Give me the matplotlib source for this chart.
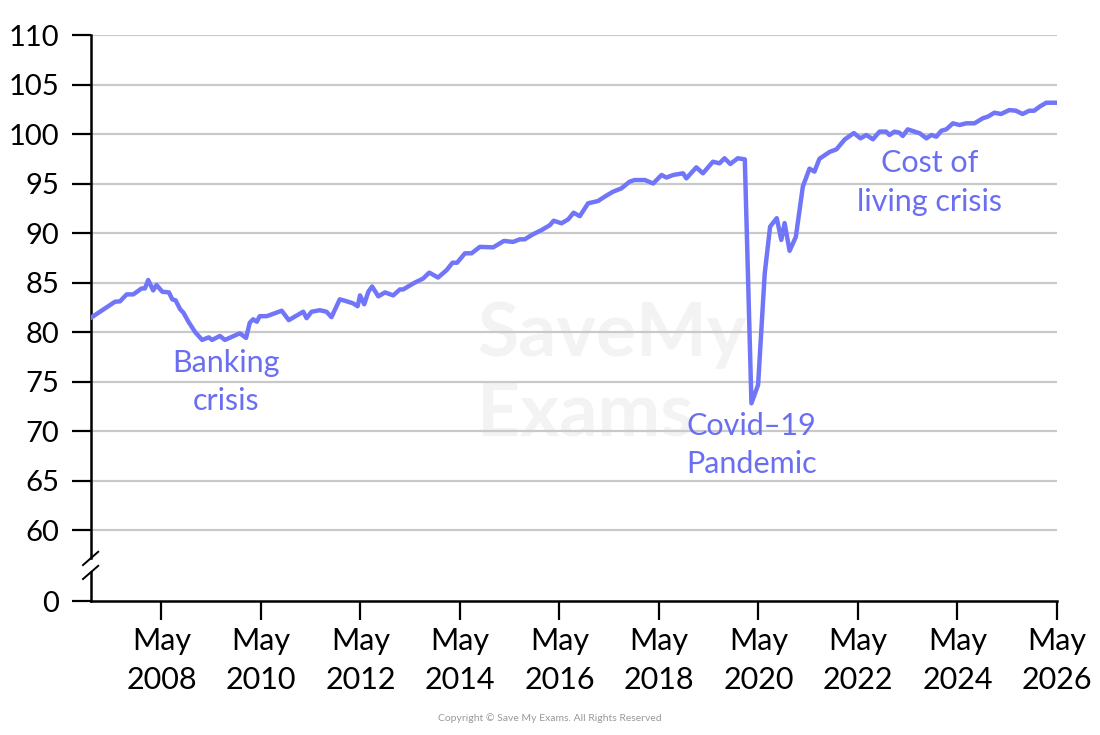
import numpy as np
import matplotlib
matplotlib.use("Agg")
import matplotlib.pyplot as plt
import matplotlib.transforms as mtransforms

plt.rcParams['font.family'] = ['Lato', 'DejaVu Sans']

#%% data (months counted from Dec 2006, index value)
month_idx = [0.2, 5.8, 7, 8.6, 10.2, 12.2, 13, 13.8, 15, 15.8, 17.2, 18.8, 19.6, 20.4,
             21.5, 22.3, 23.5, 25.1, 26.8, 28.4, 29.2, 31.1, 32.3, 33.9, 35.9, 37.4,
             38.3, 39.1, 40, 40.7, 42.4, 46, 47.7, 51.2, 52, 53.2, 55.2, 56.8, 58, 60,
             61.2, 63.2, 64.3, 64.9, 65.9, 66.9, 67.8, 69.3, 70.9, 72.9, 74.5, 75.3,
             77.7, 80.1, 81.6, 83.7, 85.8, 87.2, 88.3, 90.2, 91.8, 93.8, 97, 99.6,
             101.8, 103.4, 104.6, 106.6, 108.7, 110.7, 111.6, 113.5, 115.1, 116.4,
             117.9, 119.9, 122.3, 123.9, 125.9, 127.9, 129.9, 131.1, 133.6, 135.6,
             137.6, 138.8, 140.4, 142.8, 143.6, 146, 147.6, 150, 151.6, 152.8, 154.2,
             156, 157.7, 159.3, 160.9, 162.5, 163.8, 165.4, 166.5, 167.3, 168.5, 170,
             171.7, 173.3, 174.5, 175.7, 178.2, 179.8, 181.8, 184, 185.6, 187, 188.6,
             190.2, 191.8, 192.6, 193.8, 195, 195.8, 197, 199.9, 201.5, 202.7, 203.9,
             205.1, 206.3, 207.9, 209.5, 211.1, 213.1, 215.1, 216.3, 217.9, 219.5,
             221.5, 223.1, 224.7, 226.3, 227.5, 228.8, 230.4, 232.8]
index_vals = [81.5, 83.06, 83.1, 83.8, 83.8, 84.4, 84.4, 85.25, 84.2, 84.75, 84.07, 84.0,
              83.3, 83.2, 82.3, 81.95, 81.04, 80.0, 79.2, 79.46, 79.2, 79.6, 79.2, 79.5,
              79.87, 79.4, 80.94, 81.28, 81.04, 81.6, 81.6, 82.15, 81.2, 82.05, 81.4,
              82.05, 82.2, 82.05, 81.5, 83.3, 83.16, 82.9, 82.6, 83.7, 82.8, 84.07, 84.6,
              83.6, 84.0, 83.7, 84.3, 84.3, 84.9, 85.4, 86.0, 85.5, 86.26, 87.0, 87.0,
              87.95, 87.95, 88.6, 88.55, 89.2, 89.1, 89.36, 89.36, 89.87, 90.3, 90.8,
              91.24, 90.98, 91.38, 92.05, 91.7, 93.0, 93.23, 93.67, 94.17, 94.5, 95.18,
              95.35, 95.35, 95.0, 95.86, 95.6, 95.86, 96.03, 95.52, 96.63, 96.03, 97.2,
              97.04, 97.55, 96.97, 97.55, 97.44, 72.8, 74.65, 85.9, 90.64, 91.5, 89.3,
              91.0, 88.2, 89.6, 94.7, 96.5, 96.2, 97.5, 98.2, 98.45, 99.45, 100.1, 99.56,
              99.9, 99.47, 100.24, 100.24, 99.9, 100.24, 100.13, 99.8, 100.47, 100.07,
              99.56, 99.9, 99.73, 100.33, 100.47, 101.08, 100.91, 101.08, 101.08, 101.59,
              101.75, 102.15, 102.02, 102.42, 102.35, 102.02, 102.35, 102.35, 102.76,
              103.16, 103.16]

start_year = 2006 + 11 / 12          # Dec 2006
tick_years = [2008, 2010, 2012, 2014, 2016, 2018, 2020, 2022, 2024, 2026]
y_ticks = [60, 65, 70, 75, 80, 85, 90, 95, 100, 105, 110]
y_zero_pos = 52.83                   # where the "0" sits below the axis break

annotations = [("Banking\ncrisis", 2009.63, 74.95),
               ("Covid\u201219\nPandemic", 2020.19, 68.6),
               ("Cost of\nliving crisis", 2023.77, 95.1)]

line_col = '#7176F9'
text_col = '#6A6FF2'

#%% plot
years = start_year + np.array(month_idx) / 12

fig = plt.figure(figsize=(11, 7.35), dpi=100)
ax = fig.add_axes([91 / 1100, 1 - 601 / 735, (1057 - 91) / 1100, (601 - 35) / 735])

# faint watermark
ax.text(0.40, 0.47, "SaveMy", transform=ax.transAxes, fontsize=54,
        fontweight='bold', color='#f3f3f3', ha='left', va='center', zorder=0)
ax.text(0.40, 0.33, "Exams", transform=ax.transAxes, fontsize=54,
        fontweight='bold', color='#f3f3f3', ha='left', va='center', zorder=0)

for v in y_ticks:
    ax.axhline(v, color='#c9c9c9', lw=1.6, zorder=1)

ax.plot(years, index_vals, color=line_col, lw=3.2, solid_joinstyle='round', zorder=3)

ax.set_xlim(start_year, 2026 + 4 / 12)
ax.set_ylim(y_zero_pos, 110)

ax.set_xticks([y + 4 / 12 for y in tick_years])
ax.set_xticklabels(["May\n%d" % y for y in tick_years], fontsize=22, linespacing=1.45)
ax.set_yticks([y_zero_pos] + y_ticks)
ax.set_yticklabels(['0'] + [str(v) for v in y_ticks], fontsize=21)
ax.tick_params(axis='y', length=14, width=1.6, pad=9)
ax.tick_params(axis='x', length=14, width=1.6, pad=5)

for s in ['top', 'right']:
    ax.spines[s].set_visible(False)
ax.spines['bottom'].set_linewidth(1.8)
ax.spines['left'].set_linewidth(1.8)
ax.spines['left'].set_bounds(57.2, 110)

# axis break
trans = mtransforms.blended_transform_factory(ax.transAxes, ax.transData)
ax.plot([0, 0], [y_zero_pos, 55.75], color='black', lw=1.8, transform=trans, clip_on=False)
dx = 8 / 966
ax.plot([-dx, dx * 0.9], [56.46, 57.8], color='black', lw=1.4, transform=trans, clip_on=False)
ax.plot([-dx, dx * 0.9], [55.05, 56.38], color='black', lw=1.4, transform=trans, clip_on=False)

for txt, x, y in annotations:
    ax.text(x, y, txt, color=text_col, fontsize=22, ha='center', va='center',
            linespacing=1.45, zorder=4)

fig.text(0.5, 1 - 718 / 735, "Copyright \u00a9 Save My Exams. All Rights Reserved",
         fontsize=7.5, color='#999999', ha='center', va='center')

fig.savefig("out.png", dpi=100)
